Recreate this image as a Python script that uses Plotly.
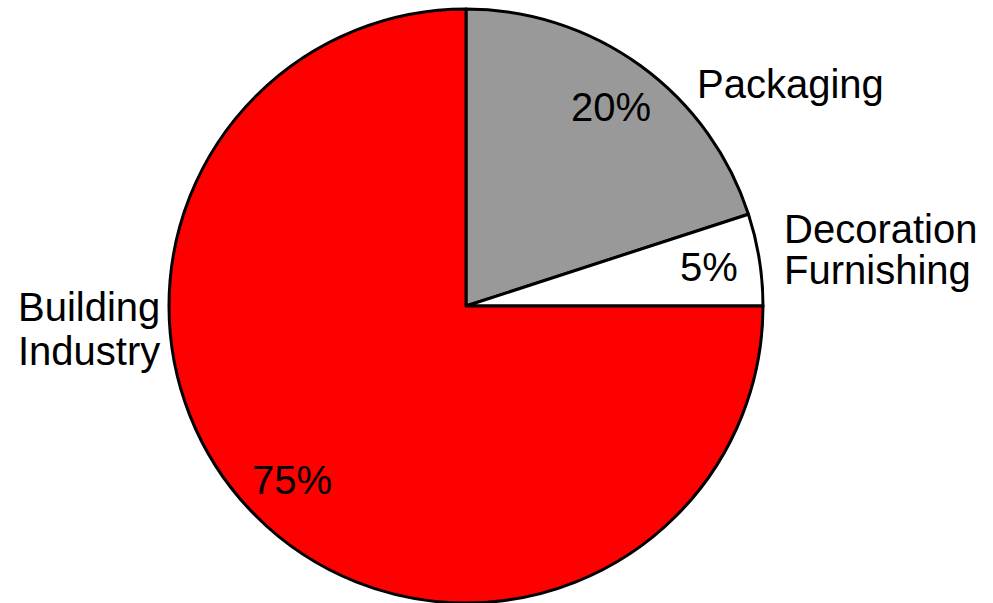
import math
import plotly.graph_objects as go

categories = ["Packaging", "Decoration Furnishing", "Building Industry"]
values = [20, 5, 75]
colors = ["#999999", "#FFFFFF", "#FF0000"]

W, H = 993, 603
CX, CY, R = 466, 306, 297  # pie centre / radius in pixels

fig = go.Figure(go.Pie(
    labels=categories,
    values=values,
    sort=False,
    direction="clockwise",
    rotation=0,
    marker=dict(colors=colors, line=dict(color="black", width=3)),
    textinfo="none",
    hoverinfo="label+percent",
    showlegend=False,
    domain=dict(x=[(CX - R) / W, (CX + R) / W], y=[1 - (CY + R) / H, 1 - (CY - R) / H]),
))

font = dict(family="Liberation Sans, Arial, sans-serif", size=40, color="black")
annotations = []

# percentage labels at slice mid angles
total = sum(values)
cum = 0
for v in values:
    mid = (cum + v / 2) / total * 2 * math.pi
    cum += v
    px = CX + 0.83 * R * math.sin(mid)
    py = CY - 0.83 * R * math.cos(mid)
    annotations.append(dict(
        x=px / W, y=1 - py / H, xref="paper", yref="paper",
        text=f"{round(v / total * 100)}%", showarrow=False,
        xanchor="center", yanchor="middle", font=font))

# category name labels (one annotation per line)
name_lines = [
    ("Packaging", 696, 84),
    ("Decoration", 783, 229),
    ("Furnishing", 783, 270),
    ("Building", 17, 307),
    ("Industry", 17, 351),
]
for txt, lx, ly in name_lines:
    annotations.append(dict(
        x=lx / W, y=1 - ly / H, xref="paper", yref="paper",
        text=txt, showarrow=False, xanchor="left", yanchor="middle",
        font=font, borderpad=0))

fig.update_layout(
    width=W, height=H,
    margin=dict(l=0, r=0, t=0, b=0),
    paper_bgcolor="white", plot_bgcolor="white",
    annotations=annotations,
)

fig.write_html("out.html")
